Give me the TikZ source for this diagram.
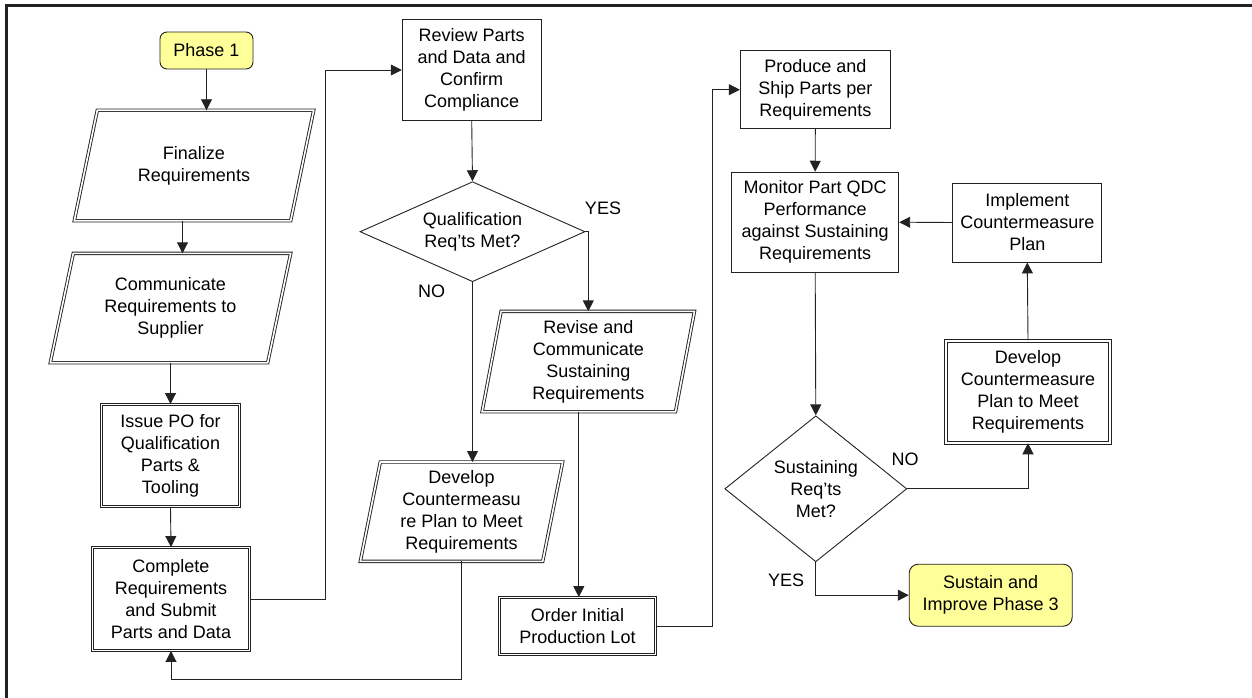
\documentclass[tikz,border=0pt]{standalone}
\usepackage{fontspec}
\setmainfont{Liberation Sans}
\usetikzlibrary{shapes.geometric,arrows.meta}
\definecolor{termyellow}{HTML}{FFFF99}
\definecolor{ln}{HTML}{222222}
\newcommand\ioshape[2]{\draw[iodraw] ([xshift=#2]#1.north west) -- (#1.north east) -- ([xshift=-#2]#1.south east) -- (#1.south west) -- cycle;}
\begin{document}
\begin{tikzpicture}[x=1pt,y=-1pt,
  every node/.style={font=\fontsize{18}{22}\selectfont, align=center, inner sep=0pt},
  box/.style={draw=ln, line width=0.9pt, rectangle},
  dbox/.style={box, double, double distance=1.6pt},
  ionode/.style={rectangle, draw=none},
  iodraw/.style={draw=ln, line width=0.9pt, double, double distance=1.6pt, line join=miter},
  term/.style={draw=ln, line width=0.9pt, fill=termyellow, rounded corners=7pt},
  dec/.style={draw=ln, line width=0.9pt, diamond},
  arr/.style={draw=ln, line width=0.9pt, -{Triangle[length=11pt,width=11pt]}}
]
\useasboundingbox (0,0) rectangle (1252,698);
\draw[line width=2.6pt, ln] (6.7,710) -- (6.7,5.6) -- (1260,5.6);

\node[term, minimum width=93pt, minimum height=37pt] (p1) at (206.5,50.5) {Phase 1};
\node[ionode, minimum width=239pt, minimum height=110pt] (fin) at (194,165.5) {Finalize\\Requirements};
\ioshape{fin}{23pt}
\node[ionode, minimum width=240pt, minimum height=109pt] (comm) at (170.5,308) {Communicate\\Requirements to\\Supplier};
\ioshape{comm}{23pt}
\node[dbox, minimum width=138pt, minimum height=102pt] (po) at (170.5,455.5) {Issue PO for\\Qualification\\Parts \&\\Tooling};
\node[dbox, minimum width=157pt, minimum height=103pt] (comp) at (171,599) {Complete\\Requirements\\and Submit\\Parts and Data};
\node[box, minimum width=139pt, minimum height=101pt] (rev) at (471.7,70) {Review Parts\\and Data and\\Confirm\\Compliance};
\node[dec, minimum width=225pt, minimum height=100pt, aspect=2.25] (q) at (472.5,231.7) {Qualification\\Req’ts Met?};
\node[ionode, minimum width=212pt, minimum height=100pt] (revise) at (588.3,361.5) {Revise and\\Communicate\\Sustaining\\Requirements};
\ioshape{revise}{19pt}
\node[ionode, minimum width=202pt, minimum height=99pt] (devm) at (461.5,511.7) {Develop\\Countermeasu\\re Plan to Meet\\Requirements};
\ioshape{devm}{20pt}
\node[dbox, minimum width=156pt, minimum height=57pt] (order) at (577.5,626) {Order Initial\\Production Lot};
\node[box, minimum width=150pt, minimum height=78pt] (prod) at (815.3,89.7) {Produce and\\Ship Parts per\\Requirements};
\node[box, minimum width=167pt, minimum height=100pt] (mon) at (815.2,222.2) {Monitor Part QDC\\Performance\\against Sustaining\\Requirements};
\node[box, minimum width=149pt, minimum height=79pt] (impl) at (1027.3,222.5) {Implement\\Countermeasure\\Plan};
\node[dbox, minimum width=164pt, minimum height=102pt] (devr) at (1028,391.8) {Develop\\Countermeasure\\Plan to Meet\\Requirements};
\node[dec, minimum width=182pt, minimum height=146pt, aspect=1.25] (s) at (815.8,488.8) {Sustaining\\Req’ts\\Met?};
\node[term, minimum width=163pt, minimum height=62pt, rounded corners=9pt] (sus) at (990.7,595.2) {Sustain and\\Improve Phase 3};

\node (yes1) at (603,208) {YES};
\node (no1) at (431.7,291.7) {NO};
\node (no2) at (905,459.3) {NO};
\node (yes2) at (786,580) {YES};

\draw[arr] (p1.south) -- (p1.south |- fin.north);
\draw[arr] ([xshift=-11.5pt]fin.south) -- ([xshift=-11.5pt]fin.south |- comm.north);
\draw[arr] (comm.south) -- (po.north);
\draw[arr] (po.south) -- (comp.north);
\draw[arr] (comp.east) -- ++(75,0) |- (rev.west);
\draw[arr] (rev.south) -- (q.north);
\draw[arr] (q.east) -| (revise.north);
\draw[arr] (q.south) -- (q.south |- devm.north);
\draw[arr] (devm.south) |- ([yshift=-28pt]comp.south) -- (comp.south);
\draw[arr] ([xshift=-9.5pt]revise.south) -- ([xshift=-9.5pt]revise.south |- order.north);
\draw[arr] (order.east) -- ++(56,0) |- (prod.west);
\draw[arr] (prod.south) -- (mon.north);
\draw[arr] (impl.west) -- (mon.east);
\draw[arr] (devr.north) -- (impl.south);
\draw[arr] (mon.south) -- (s.north);
\draw[arr] (s.east) -| (devr.south);
\draw[arr] (s.south) |- (sus.west);
\end{tikzpicture}
\end{document}
